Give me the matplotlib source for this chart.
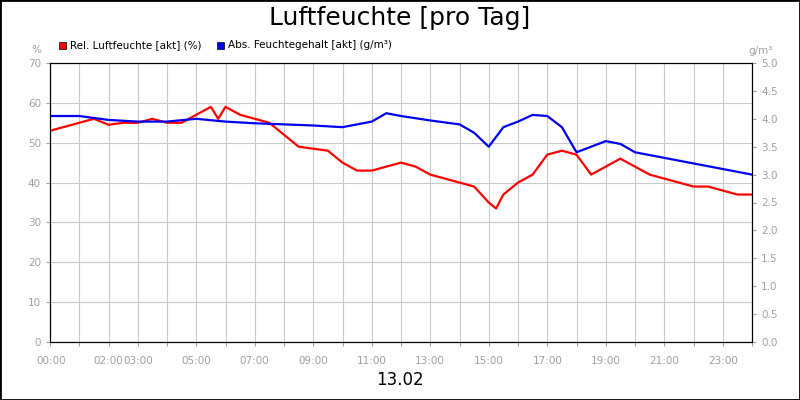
import matplotlib
matplotlib.use("Agg")
import matplotlib.pyplot as plt
from matplotlib.patches import Rectangle

hours_rel = [0,0.5,1,1.5,2,2.5,3,3.5,4,4.5,5,5.25,5.5,5.75,6,6.5,7,7.5,8,8.5,9,9.5,10,10.5,11,11.5,12,12.5,13,13.5,14,14.5,15,15.25,15.5,16,16.5,17,17.5,18,18.5,19,19.5,20,20.5,21,21.5,22,22.5,23,23.5,24]
rel = [53,54,55,56,54.5,55,55,56,55,55,57,58,59,56,59,57,56,55,52,49,48.5,48,45,43,43,44,45,44,42,41,40,39,35,33.5,37,40,42,47,48,47,42,44,46,44,42,41,40,39,39,38,37,37]
hours_abs = [0,1,2,3,4,5,6,7,8,9,10,11,11.5,12,13,14,14.5,15,15.5,16,16.5,17,17.5,18,18.5,19,19.5,20,20.5,21,21.5,22,22.5,23,23.5,24]
absv = [4.05,4.05,3.98,3.95,3.95,4.0,3.95,3.92,3.9,3.88,3.85,3.95,4.1,4.05,3.97,3.9,3.75,3.5,3.85,3.95,4.07,4.05,3.85,3.4,3.5,3.6,3.55,3.4,3.35,3.3,3.25,3.2,3.15,3.1,3.05,3.0]
tick_hours = [0,2,3,5,7,9,11,13,15,17,19,21,23]
tick_labels = ["00:00","02:00","03:00","05:00","07:00","09:00","11:00","13:00","15:00","17:00","19:00","21:00","23:00"]

fig = plt.figure(figsize=(8,4), dpi=100)
fig.patches.append(Rectangle((0,0),1,1,transform=fig.transFigure,fill=False,edgecolor="black",linewidth=2))
ax = fig.add_axes([50/800, 1-342/400, 702/800, 279/400])
ax2 = ax.twinx()
grey = "#a0a0a0"
ax.plot(hours_rel, rel, color="#ff0000", lw=1.6, zorder=3)
ax2.plot(hours_abs, absv, color="#0000ee", lw=1.6)
ax.set_xlim(0,24); ax.set_ylim(0,70); ax2.set_ylim(0,5)
ax.set_xticks(range(25), minor=False)
ax.set_xticklabels(["" for _ in range(25)])
for h,l in zip(tick_hours,tick_labels):
    ax.text(h+(0.03 if h==0 else 0), -3.5, l, ha="center", va="top", color=grey, fontsize=7.5)
ax.set_yticks(range(0,71,10))
ax2.set_yticks([i*0.5 for i in range(11)])
ax2.set_yticklabels([f"{i*0.5:.1f}" for i in range(11)])
ax.grid(True, color="#c8c8c8", lw=0.8)
for a in (ax,ax2):
    a.tick_params(colors=grey, labelsize=7.5, length=3)
    for s in a.spines.values():
        s.set_color("black")
ax.text(-0.3, 72.5, "%", color=grey, fontsize=7.5, ha="right")
ax2.text(24.3, 5.17, "g/m³", color=grey, fontsize=7.5, ha="center")
fig.text(0.5, 1-18/400, "Luftfeuchte [pro Tag]", ha="center", va="center", fontsize=18)
fig.text(0.5, 1-380/400, "13.02", ha="center", va="center", fontsize=12)
fig.patches.append(Rectangle((59/800,1-49/400),7/800,7/400,transform=fig.transFigure,facecolor="#ff0000",edgecolor="black",lw=0.5))
fig.text(70/800,1-45.5/400,"Rel. Luftfeuchte [akt] (%)",fontsize=7.5,va="center")
fig.patches.append(Rectangle((217/800,1-49/400),7/800,7/400,transform=fig.transFigure,facecolor="#0000ff",edgecolor="black",lw=0.5))
fig.text(228/800,1-45.5/400,"Abs. Feuchtegehalt [akt] (g/m³)",fontsize=7.5,va="center")
fig.savefig("out.png", dpi=100)
